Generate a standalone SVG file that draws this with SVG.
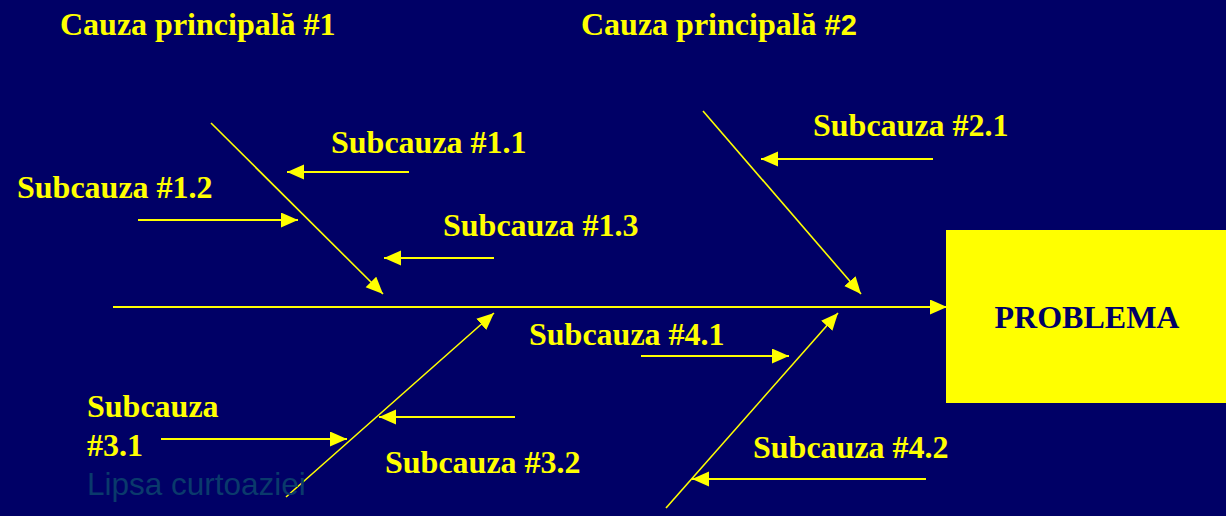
<svg xmlns="http://www.w3.org/2000/svg" width="1226" height="516" viewBox="0 0 1226 516">
<style>
.t{font-family:"Liberation Serif","Times New Roman",serif;font-weight:bold;font-size:32px;fill:#FFFF00}
.ln{stroke:#FFFF00;stroke-width:2;fill:none;marker-end:url(#ah)}
.bone{stroke:#FFFF00;stroke-width:1.6;fill:none;marker-end:url(#ah)}
</style>
<defs>
<marker id="ah" markerUnits="userSpaceOnUse" markerWidth="20" markerHeight="16" refX="17" refY="7.5" orient="auto">
<path d="M0,0 L17,7.5 L0,15 z" fill="#FFFF00"/>
</marker>
</defs>
<rect width="1226" height="516" fill="#000066"/>
<g id="connectors">
<line class="ln" x1="113" y1="307" x2="947" y2="307"/>
<line class="bone" x1="211" y1="123" x2="383" y2="294"/>
<line class="bone" x1="703" y1="111" x2="861" y2="294"/>
<line class="bone" x1="286" y1="497" x2="494" y2="313"/>
<line class="bone" x1="666" y1="508" x2="838" y2="313"/>
<line class="ln" x1="409" y1="172" x2="287" y2="172"/>
<line class="ln" x1="138" y1="220" x2="298" y2="220"/>
<line class="ln" x1="494" y1="258" x2="384" y2="258"/>
<line class="ln" x1="933" y1="159" x2="761" y2="159"/>
<line class="ln" x1="641" y1="356" x2="789" y2="356"/>
<line class="ln" x1="926" y1="479" x2="692" y2="479"/>
<line class="ln" x1="161" y1="439" x2="347" y2="439"/>
<line class="ln" x1="515" y1="417" x2="379" y2="417"/>
</g>
<g id="problema">
<rect x="946" y="230" width="290" height="173" fill="#FFFF00"/>
<text x="1087" y="328" text-anchor="middle" style="font-family:'Liberation Serif','Times New Roman',serif;font-weight:bold;font-size:32px;fill:#000066">PROBLEMA</text>
</g>
<g id="cauza1"><text class="t" x="60" y="35">Cauza principală #1</text></g>
<g id="cauza2"><text class="t" x="581" y="35">Cauza principală <tspan style="font-family:'Liberation Sans',Arial,sans-serif;font-size:29px">#2</tspan></text></g>
<g id="sub11"><text class="t" x="331" y="153">Subcauza #1.1</text></g>
<g id="sub12"><text class="t" x="17" y="198">Subcauza #1.2</text></g>
<g id="sub13"><text class="t" x="443" y="236">Subcauza #1.3</text></g>
<g id="sub21"><text class="t" x="813" y="136">Subcauza #2.1</text></g>
<g id="sub41"><text class="t" x="529" y="345">Subcauza #4.1</text></g>
<g id="sub42"><text class="t" x="753" y="458">Subcauza #4.2</text></g>
<g id="sub31"><text class="t" x="87" y="417">Subcauza</text><text class="t" x="87" y="456">#3.1</text></g>
<g id="sub32"><text class="t" x="385" y="473">Subcauza #3.2</text></g>
<g id="note"><text x="87" y="495" style="font-family:'Liberation Sans',Arial,sans-serif;font-size:31.5px;fill:#0a3a6c">Lipsa curtoaziei</text></g>
</svg>
